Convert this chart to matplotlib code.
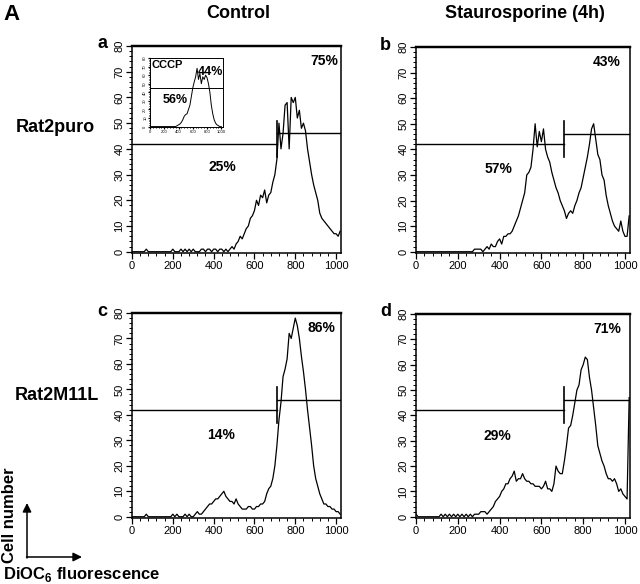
import numpy as np
import matplotlib
matplotlib.use("Agg")
import matplotlib.pyplot as plt
from matplotlib.ticker import MultipleLocator

plt.rcParams["font.family"] = ["Liberation Sans", "DejaVu Sans"]
plt.rcParams["mathtext.fontset"] = "custom"
plt.rcParams["mathtext.bf"] = "Liberation Sans:bold"
plt.rcParams["mathtext.rm"] = "Liberation Sans"

# channel positions (DiOC6 fluorescence), one value per 10 channels
channels = np.arange(0, 1030, 10)

# a: Rat2puro, control
rat2puro_control = [
    0, 0, 0, 0, 0, 0, 0, 1, 0, 0,
    0, 0, 0, 0, 0, 0, 0, 0, 0, 0,
    1, 0, 0, 0, 1, 0, 1, 0, 1, 0,
    1, 0, 0, 0, 1, 1, 0, 1, 1, 0,
    1, 1, 0, 1, 1, 0, 1, 0, 1, 2,
    1, 3, 4, 6, 5, 7, 9, 10, 13, 14,
    16, 20, 18, 22, 21, 24, 19, 22, 23, 27,
    30, 36, 50, 40, 46, 57, 58, 40, 60, 58,
    60, 52, 55, 48, 50, 47, 40, 35, 30, 26,
    23, 20, 15, 13, 12, 11, 10, 9, 8, 7,
    7, 6, 8,
]

# b: Rat2puro, staurosporine (4h)
rat2puro_stauro = [
    0, 0, 0, 0, 0, 0, 0, 0, 0, 0,
    0, 0, 0, 0, 0, 0, 0, 0, 0, 0,
    0, 0, 0, 0, 0, 0, 0, 0, 1, 1,
    1, 1, 0, 1, 2, 1, 3, 2, 2, 4,
    5, 3, 6, 6, 7, 7, 8, 10, 12, 14,
    17, 20, 23, 30, 31, 33, 40, 50, 41, 47,
    43, 48, 40, 37, 35, 31, 28, 25, 23, 20,
    18, 16, 13, 15, 16, 15, 18, 20, 23, 25,
    29, 33, 37, 42, 48, 50, 44, 38, 36, 30,
    28, 22, 18, 15, 12, 10, 9, 8, 12, 8,
    6, 6, 14,
]

# c: Rat2M11L, control
rat2m11l_control = [
    0, 0, 0, 0, 0, 0, 0, 1, 0, 0,
    0, 0, 0, 0, 0, 0, 0, 0, 0, 0,
    1, 0, 1, 0, 0, 0, 1, 0, 1, 0,
    0, 1, 2, 1, 1, 2, 3, 4, 5, 5,
    6, 7, 7, 8, 9, 10, 8, 7, 6, 6,
    5, 7, 5, 4, 3, 3, 3, 4, 4, 3,
    3, 4, 4, 5, 5, 6, 9, 11, 12, 15,
    20, 28, 38, 45, 55, 58, 62, 72, 70, 74,
    78, 75, 70, 63, 57, 50, 42, 35, 28, 20,
    15, 12, 9, 7, 5, 5, 4, 4, 3, 3,
    2, 2, 1,
]

# d: Rat2M11L, staurosporine (4h)
rat2m11l_stauro = [
    1, 0, 0, 0, 0, 0, 0, 0, 0, 0,
    0, 0, 1, 0, 1, 0, 1, 0, 1, 0,
    1, 0, 1, 0, 1, 0, 1, 0, 1, 1,
    1, 2, 2, 2, 1, 2, 3, 4, 6, 7,
    8, 10, 11, 13, 13, 15, 16, 18, 14, 15,
    15, 17, 15, 14, 14, 13, 13, 12, 12, 12,
    11, 12, 14, 11, 11, 10, 13, 20, 18, 17,
    17, 22, 28, 35, 36, 40, 45, 50, 52, 58,
    60, 63, 62, 55, 50, 43, 36, 28, 25, 22,
    20, 17, 15, 15, 14, 15, 13, 10, 11, 9,
    8, 7, 47,
]

# inset: CCCP-treated control, one value per 20 channels
inset_channels = np.arange(0, 1020, 20)
cccp = [
    0, 0, 0, 0, 0, 0, 0, 0, 0, 0,
    0, 0, 0, 0, 0, 0, 0, 0, 0, 1,
    2, 3, 5, 8, 12, 14, 15, 20, 25, 35,
    45, 52, 58, 68, 55, 62, 50, 58, 55, 60,
    57, 50, 40, 25, 15, 8, 4, 2, 1, 0,
    0,
]

panels = [
    ("a", rat2puro_control, "75%", "25%", (940, 74), (441, 33)),
    ("b", rat2puro_stauro, "43%", "57%", (914, 74), (397, 32.5)),
    ("c", rat2m11l_control, "86%", "14%", (930, 74), (436, 32)),
    ("d", rat2m11l_stauro, "71%", "29%", (914, 74), (388, 32)),
]

# axes boxes in pixels: left, top, right, bottom
boxes = {
    "a": (132, 46, 341, 253),
    "b": (416, 47, 630, 253),
    "c": (132, 313, 341, 518),
    "d": (416, 314, 630, 518),
}

W, H = 640, 584
GATE_X = 710
fig = plt.figure(figsize=(W / 100, H / 100), dpi=100)


def px_axes(l, t, r, b):
    return fig.add_axes([l / W, 1 - b / H, (r - l) / W, (b - t) / H])


def ftext(x, y, s, **kw):
    fig.text(x / W, 1 - y / H, s, **kw)


def style_axes(ax, label_size=8, major_len=4, minor_len=2, lw=1.1):
    ax.set_xlim(0, 1024)
    ax.set_ylim(-0.5, 80)
    ax.xaxis.set_major_locator(MultipleLocator(200))
    ax.xaxis.set_minor_locator(MultipleLocator(40))
    ax.yaxis.set_major_locator(MultipleLocator(10))
    ax.yaxis.set_minor_locator(MultipleLocator(2))
    ax.tick_params(which="major", direction="out", length=major_len, width=0.9,
                   labelsize=label_size, pad=1.5)
    ax.tick_params(which="minor", direction="out", length=minor_len, width=0.7)
    for lab in ax.get_yticklabels():
        lab.set_rotation(90)
        lab.set_va("center")
    for sp in ax.spines.values():
        sp.set_linewidth(lw)
    ax.spines["top"].set_linewidth(lw * 1.6)


for name, counts, hi, lo, hi_pos, lo_pos in panels:
    ax = px_axes(*boxes[name])
    style_axes(ax)
    ax.plot(channels, counts, color="black", linewidth=0.9)
    # gate markers
    ax.plot([0, GATE_X], [42, 42], color="black", linewidth=1.0)
    ax.plot([GATE_X, 1024], [46, 46], color="black", linewidth=1.0)
    ax.plot([GATE_X, GATE_X], [37, 51], color="black", linewidth=1.2)
    ax.text(*hi_pos, hi, ha="center", va="center", fontsize=10, fontweight="bold")
    ax.text(*lo_pos, lo, ha="center", va="center", fontsize=10, fontweight="bold")
    l, t, r, b = boxes[name]
    ftext(l - 25, t - 2, name, ha="right", va="center", fontsize=13, fontweight="bold")

# inset in panel a
ins = px_axes(150, 58, 223, 127)
style_axes(ins, label_size=3, major_len=1.5, minor_len=0.8, lw=0.7)
ins.spines["top"].set_linewidth(0.7)
ins.tick_params(pad=0.5)
ins.plot(inset_channels, cccp, color="black", linewidth=0.7)
ins.axhline(45, color="black", linewidth=0.7)
ins.text(28, 72, "CCCP", ha="left", va="center", fontsize=8, fontweight="bold")
ins.text(842, 64, "44%", ha="center", va="center", fontsize=9, fontweight="bold")
ins.text(351, 31, "56%", ha="center", va="center", fontsize=9, fontweight="bold")

# headers and row labels
ftext(11, 15, "A", ha="center", va="center", fontsize=16, fontweight="bold")
ftext(238, 14, "Control", ha="center", va="center", fontsize=13, fontweight="bold")
ftext(525, 14, "Staurosporine (4h)", ha="center", va="center", fontsize=13,
      fontweight="bold")
ftext(55, 128, "Rat2puro", ha="center", va="center", fontsize=13, fontweight="bold")
ftext(57, 395, "Rat2M11L", ha="center", va="center", fontsize=13, fontweight="bold")

# axis key, bottom left
key = fig.add_axes([0, 0, 1, 1], facecolor="none")
key.set_xlim(0, W)
key.set_ylim(H, 0)
key.axis("off")
arrow = dict(arrowstyle="-|>", color="black", lw=1.1, mutation_scale=13,
             shrinkA=0, shrinkB=0)
key.annotate("", xy=(27, 503), xytext=(27, 558), arrowprops=arrow)
key.annotate("", xy=(82, 557), xytext=(26.5, 557), arrowprops=arrow)
ftext(10, 515, "Cell number", ha="center", va="center", rotation=90,
      fontsize=12, fontweight="bold")
ftext(3, 575, r"DiOC$_\mathbf{6}$ fluorescence", ha="left", va="center",
      fontsize=12, fontweight="bold")

fig.savefig("out.png", dpi=100)
